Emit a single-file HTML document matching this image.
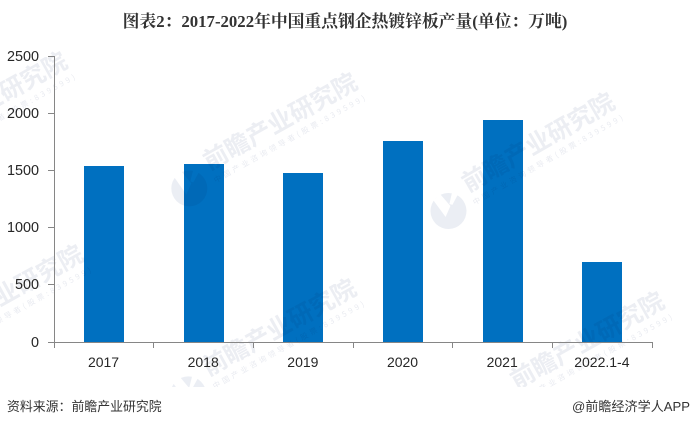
<!DOCTYPE html>
<html lang="zh">
<head>
<meta charset="utf-8">
<title>图表2</title>
<style>
html,body{margin:0;padding:0;background:#fff;}
body{width:690px;height:427px;overflow:hidden;}
svg{display:block;}
.sans{font-family:"Liberation Sans","Noto Sans CJK SC",sans-serif;}
.wm{mix-blend-mode:multiply;}
</style>
</head>
<body>
<svg id="chart" width="690" height="427" viewBox="0 0 690 427" xmlns="http://www.w3.org/2000/svg">
  <defs>
    <clipPath id="wm-clip"><rect x="0" y="0" width="690" height="387"></rect></clipPath>
    <g id="wm-mark">
      <g transform="translate(-112 15) rotate(29)">
        <circle cx="0" cy="0" r="18" fill="#ebeef4"></circle>
        <path d="M-15 -11 L-8 -17 L2 -5 L-3 6 Z" fill="#fff"></path>
        <path d="M4 -19 L10 -17 L4 -6 L1 -7 Z" fill="#fff"></path>
      </g>
      <text x="0" y="9" text-anchor="middle" font-size="24.5" font-weight="700" fill="#eceef3" font-family="'Noto Sans CJK SC',sans-serif">前瞻产业研究院</text>
      <text x="1" y="23" text-anchor="middle" font-size="7.5" letter-spacing="3" fill="#e9ebf1" font-family="'Noto Sans CJK SC',sans-serif">中国产业咨询领导者(股票:839599)</text>
    </g>
  </defs>
  <rect x="0" y="0" width="690" height="427" fill="#ffffff"></rect>
  <text x="345" y="27" text-anchor="middle" font-size="16.8" font-weight="700" fill="#333333" font-family="'Liberation Serif','Noto Serif CJK SC',serif">图表2：2017-2022年中国重点钢企热镀锌板产量(单位：万吨)</text>
  <g id="bars"></g>
  <g class="wm" clip-path="url(#wm-clip)">
    <use href="#wm-mark" transform="translate(-10 100) rotate(-29)"></use>
    <use href="#wm-mark" transform="translate(280 121) rotate(-29)"></use>
    <use href="#wm-mark" transform="translate(538 142) rotate(-30)"></use>
    <use href="#wm-mark" transform="translate(6 293) rotate(-29)"></use>
    <use href="#wm-mark" transform="translate(279 327) rotate(-29)"></use>
    <use href="#wm-mark" transform="translate(587 340) rotate(-29)"></use>
  </g>
  <g id="axes"></g>
  <text class="sans" x="7" y="411" font-size="12.9" fill="#333333">资料来源：前瞻产业研究院</text>
  <text class="sans" x="690" y="411" text-anchor="end" font-size="13.1" fill="#333333">@前瞻经济学人APP</text>
</svg>
<script>
const categories = ['2017', '2018', '2019', '2020', '2021', '2022.1-4'];
const seriesValues = [1538, 1556, 1477, 1757, 1940, 699];
const yTickLabels = [0, 500, 1000, 1500, 2000, 2500];

const svgNS = 'http://www.w3.org/2000/svg';
const plotLeft = 54, plotRight = 652, plotTop = 56, plotBottom = 342;
const yMax = 2500;
const barWidth = 40;
const axisColor = '#868686';
const labelColor = '#262626';

function xBand(i) { return plotLeft + (plotRight - plotLeft) * i / categories.length; }
function xCenter(i) { return xBand(i) + (plotRight - plotLeft) / categories.length / 2; }
function yScale(v) { return plotBottom - (plotBottom - plotTop) * v / yMax; }
function make(tag, attrs, parent) {
  const el = document.createElementNS(svgNS, tag);
  for (const k in attrs) el.setAttribute(k, attrs[k]);
  parent.appendChild(el);
  return el;
}

const barsGroup = document.getElementById('bars');
const axesGroup = document.getElementById('axes');

seriesValues.forEach(function (v, i) {
  const top = Math.round(yScale(v));
  const bar = make('rect', { x: Math.round(xCenter(i) - barWidth / 2), y: top, width: barWidth, height: plotBottom - top, fill: '#0070c0' }, barsGroup);
  
  
});

const yAxis = make('line', { x1: plotLeft + 0.5, x2: plotLeft + 0.5, y1: plotTop, y2: plotBottom, stroke: axisColor, 'stroke-width': 1 }, axesGroup);



const xAxis = make('line', { x1: plotLeft - 6, x2: plotRight + 1, y1: plotBottom + 0.5, y2: plotBottom + 0.5, stroke: axisColor, 'stroke-width': 1 }, axesGroup);



yTickLabels.forEach(function (t) {
  const y = Math.floor(yScale(t)) + 0.5;
  const tick = make('line', { x1: plotLeft - 6, x2: plotLeft, y1: y, y2: y, stroke: axisColor, 'stroke-width': 1 }, axesGroup);
  
  
  const label = make('text', { x: 39, y: y + 4.5, 'text-anchor': 'end', 'font-size': 14.4, fill: labelColor, 'font-family': '"Liberation Sans",sans-serif' }, axesGroup);
  label.textContent = String(t);
  
  
});

for (let i = 0; i <= categories.length; i++) {
  const x = Math.floor(xBand(i)) + 0.5;
  const tick = make('line', { x1: x, x2: x, y1: plotBottom, y2: plotBottom + 6, stroke: axisColor, 'stroke-width': 1 }, axesGroup);
  
  
}

categories.forEach(function (c, i) {
  const label = make('text', { x: xCenter(i) - 0.3, y: 367, 'text-anchor': 'middle', 'font-size': 14, fill: labelColor, 'font-family': '"Liberation Sans",sans-serif' }, axesGroup);
  label.textContent = c;
  
  
});
</script>
</body>
</html>
